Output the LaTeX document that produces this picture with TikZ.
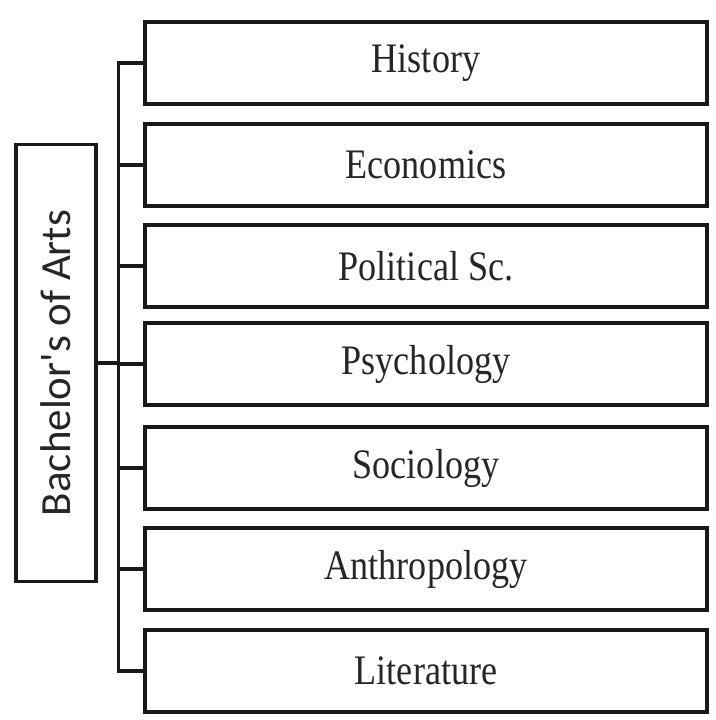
\documentclass[tikz,border=0pt]{standalone}
\usepackage{fontspec}
\newfontfamily\subjfont[FakeStretch=0.86]{Liberation Serif}
\newfontfamily\rootfont{Carlito}
\tikzset{
  line/.style={line width=3.5pt, draw=black!90},
  subj/.style={line, fill=white, rectangle, minimum width=562pt, minimum height=82pt,
    inner sep=0pt, font=\subjfont\fontsize{42}{42}\selectfont, text=black!85},
  rootbox/.style={line, fill=white, rectangle, rotate=90, minimum width=437pt, minimum height=80pt,
    inner sep=0pt, font=\rootfont\fontsize{43}{43}\selectfont, text=black!85}
}
\begin{document}
\begin{tikzpicture}[x=1pt,y=1pt]
\useasboundingbox[fill=white] (0,0) rectangle (715,720);
\node[rootbox] (root) at (56,357) {Bachelor's of Arts};
\node[subj] (b1) at (426,657) {History};
\node[subj] (b2) at (426,555) {Economics};
\node[subj] (b3) at (426,454) {Political Sc.};
\node[subj] (b4) at (426,356) {Psychology};
\node[subj] (b5) at (426,252) {Sociology};
\node[subj] (b6) at (426,151) {Anthropology};
\node[subj] (b7) at (426,49) {Literature};
\foreach \i in {1,...,7}{
  \draw[line] (b\i.west) -- ++(-25,0) coordinate (j\i);
}
\draw[line, line cap=rect] (j1) -- (j7);
\draw[line] (root) -- (root -| j1);
\end{tikzpicture}
\end{document}
